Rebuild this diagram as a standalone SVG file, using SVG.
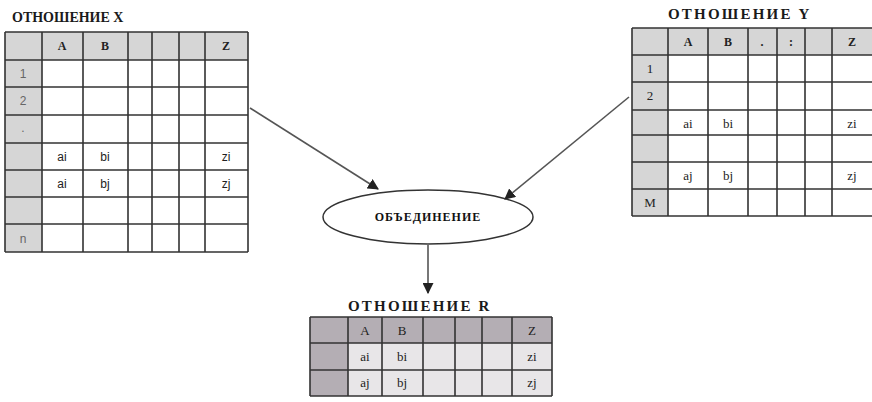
<svg xmlns="http://www.w3.org/2000/svg" width="872" height="402" viewBox="0 0 872 402">
<style>
.title{font-family:"Liberation Serif","DejaVu Serif",serif;font-weight:bold;font-size:14px;fill:#1a1a1a}
.wide{font-size:15px;letter-spacing:2.2px}
.hdr{font-family:"Liberation Serif",serif;font-weight:bold;font-size:12px;fill:#222;text-anchor:middle}
.cx{font-family:"Liberation Sans",Arial,sans-serif;font-size:12px;fill:#222;text-anchor:middle}
.lab{fill:#666}
.cs{font-family:"Liberation Serif",serif;font-size:13px;fill:#222;text-anchor:middle}
.grid{stroke:#333;stroke-width:1.6;fill:none}
.shade{fill:#d6d6d6}
.shadeR{fill:#b4aeb4}
.conn{stroke:#555;stroke-width:1.6;fill:none}
.lbl{font-family:"Liberation Serif",serif;font-weight:bold;font-size:12px;letter-spacing:1px;fill:#111;text-anchor:middle}
</style>
<defs>
<marker id="ah" viewBox="0 0 10 10" refX="9" refY="5" markerWidth="11" markerHeight="11" markerUnits="userSpaceOnUse" orient="auto">
<path d="M0,0 L10,5 L0,10 z" fill="#222"/>
</marker>
</defs>
<rect width="872" height="402" fill="#ffffff"/>

<g id="tableX">
<text class="title" x="12" y="22">ОТНОШЕНИЕ X</text>
<rect class="shade" x="5" y="32" width="243" height="28"/>
<rect class="shade" x="5" y="60" width="37" height="192"/>
<path class="grid" d="M5,32 V252 M42,32 V252 M83,32 V252 M128,32 V252 M152,32 V252 M179,32 V252 M205,32 V252 M248,32 V252 M5,32 H248 M5,60 H248 M5,87 H248 M5,115 H248 M5,143 H248 M5,170 H248 M5,197 H248 M5,224 H248 M5,252 H248"/>
<text class="hdr" x="62" y="50">A</text>
<text class="hdr" x="105" y="50">B</text>
<text class="hdr" x="226" y="50">Z</text>
<text class="cx lab" x="23" y="78">1</text>
<text class="cx lab" x="23" y="105">2</text>
<text class="cx lab" x="23" y="132">.</text>
<text class="cx lab" x="23" y="243">n</text>
<text class="cx" x="62" y="161">ai</text>
<text class="cx" x="105" y="161">bi</text>
<text class="cx" x="226" y="161">zi</text>
<text class="cx" x="62" y="188">ai</text>
<text class="cx" x="105" y="188">bj</text>
<text class="cx" x="226" y="188">zj</text>
</g>

<g id="tableY">
<text class="title wide" x="668" y="19">ОТНОШЕНИЕ Y</text>
<rect class="shade" x="632" y="28" width="240" height="27"/>
<rect class="shade" x="632" y="55" width="36" height="161"/>
<path class="grid" d="M632,28 V216 M668,28 V216 M708,28 V216 M748,28 V216 M777,28 V216 M805,28 V216 M832,28 V216 M632,28 H872 M632,55 H872 M632,82 H872 M632,110 H872 M632,135 H872 M632,162 H872 M632,189 H872 M632,216 H872"/>
<text class="hdr" x="688" y="46">A</text>
<text class="hdr" x="728" y="46">B</text>
<text class="hdr" x="762" y="46">.</text>
<text class="hdr" x="791" y="46">:</text>
<text class="hdr" x="852" y="46">Z</text>
<text class="cs lab" x="650" y="73">1</text>
<text class="cs lab" x="650" y="100">2</text>
<text class="cs lab" x="650" y="207">M</text>
<text class="cs" x="688" y="128">ai</text>
<text class="cs" x="728" y="128">bi</text>
<text class="cs" x="852" y="128">zi</text>
<text class="cs" x="688" y="180">aj</text>
<text class="cs" x="728" y="180">bj</text>
<text class="cs" x="852" y="180">zj</text>
</g>

<g id="union">
<ellipse cx="428" cy="217" rx="105" ry="27" fill="#ffffff" stroke="#333" stroke-width="1.5"/>
<text class="lbl" x="428" y="221">ОБЪЕДИНЕНИЕ</text>
</g>

<g id="tableR">
<text class="title wide" x="348" y="311">ОТНОШЕНИЕ R</text>
<rect class="shadeR" x="310" y="317" width="242" height="26"/>
<rect class="shadeR" x="310" y="343" width="38" height="53"/>
<rect fill="#e8e6e8" x="348" y="343" width="204" height="53"/>
<path class="grid" d="M310,317 V396 M348,317 V396 M382,317 V396 M423,317 V396 M455,317 V396 M482,317 V396 M512,317 V396 M552,317 V396 M310,317 H552 M310,343 H552 M310,370 H552 M310,396 H552"/>
<text class="cs" x="365" y="335">A</text>
<text class="cs" x="402" y="335">B</text>
<text class="cs" x="532" y="335">Z</text>
<text class="cs" x="365" y="361">ai</text>
<text class="cs" x="402" y="361">bi</text>
<text class="cs" x="532" y="361">zi</text>
<text class="cs" x="365" y="387">aj</text>
<text class="cs" x="402" y="387">bj</text>
<text class="cs" x="532" y="387">zj</text>
</g>

<g id="connectors">
<line class="conn" x1="250" y1="108" x2="378" y2="189" marker-end="url(#ah)"/>
<line class="conn" x1="629" y1="97" x2="505" y2="199" marker-end="url(#ah)"/>
<line class="conn" x1="428" y1="245" x2="428" y2="293" marker-end="url(#ah)"/>
</g>
</svg>
